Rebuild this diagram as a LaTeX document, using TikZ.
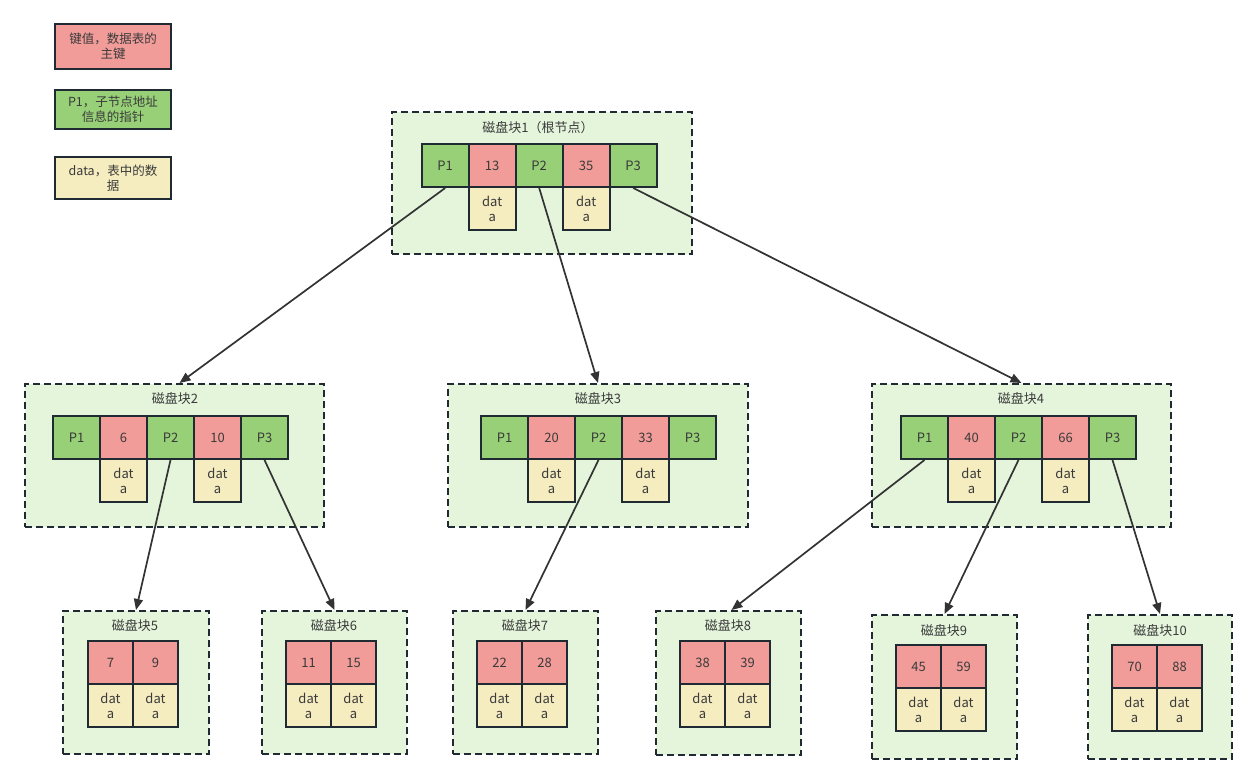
\documentclass[tikz,border=0pt]{standalone}
\usepackage{fontspec}
\setmainfont{Noto Sans CJK SC}
\usetikzlibrary{arrows.meta}
\definecolor{keyred}{HTML}{F19C99}
\definecolor{ptrgreen}{HTML}{97D077}
\definecolor{datayel}{HTML}{F5EDC0}
\definecolor{blkbg}{HTML}{E5F5DC}
\definecolor{edge}{HTML}{1F2A33}
\definecolor{txt}{HTML}{3A3A3A}
\definecolor{arr}{HTML}{333333}
\tikzset{
  cell/.style={draw=edge, line width=2pt, text=txt, font=\fontsize{13}{15}\selectfont, align=center, inner sep=0pt},
  pcell/.style={cell, fill=ptrgreen, minimum width=47, minimum height=43},
  kcell/.style={cell, fill=keyred, minimum width=47, minimum height=43},
  dcell/.style={cell, fill=datayel, minimum width=47, minimum height=43},
  lkcell/.style={cell, fill=keyred, minimum width=45, minimum height=43},
  ldcell/.style={cell, fill=datayel, minimum width=45, minimum height=43},
  blk/.style={draw=edge, fill=blkbg, line width=2pt, dash pattern=on 7pt off 4pt, inner sep=0pt},
  ttl/.style={text=txt, font=\fontsize{13}{15}\selectfont, inner sep=0pt},
  legend/.style={draw=edge, line width=2pt, text=txt, font=\fontsize{12.5}{15}\selectfont, align=center, minimum width=116, inner sep=0pt},
  link/.style={draw=arr, line width=1.7pt, -{Triangle[length=11pt,width=9pt]}}
}
\newcommand\brow[5]{%
  \node[pcell] (#1p1) at (#2+23.5,#3+21.5) {P1};
  \node[kcell] (#1k1) at (#2+70.5,#3+21.5) {#4};
  \node[pcell] (#1p2) at (#2+117.5,#3+21.5) {P2};
  \node[kcell] (#1k2) at (#2+164.5,#3+21.5) {#5};
  \node[pcell] (#1p3) at (#2+211.5,#3+21.5) {P3};
  \node[dcell] (#1d1) at (#2+70.5,#3+64.5) {dat\\a};
  \node[dcell] (#1d2) at (#2+164.5,#3+64.5) {dat\\a};
}
\newcommand\lrow[5]{%
  \node[lkcell] (#1k1) at (#2+22.5,#3+21.5) {#4};
  \node[lkcell] (#1k2) at (#2+67.5,#3+21.5) {#5};
  \node[ldcell] (#1d1) at (#2+22.5,#3+64.5) {dat\\a};
  \node[ldcell] (#1d2) at (#2+67.5,#3+64.5) {dat\\a};
}
\begin{document}
\begin{tikzpicture}[x=1pt,y=-1pt]
\useasboundingbox (0,0) rectangle (1258,784);
% legend
\node[legend, fill=keyred, minimum height=45] (lg1) at (113,46.5) {键值，数据表的\\主键};
\node[legend, fill=ptrgreen, minimum height=39] (lg2) at (113,109.5) {P1，子节点地址\\信息的指针};
\node[legend, fill=datayel, minimum height=42] (lg3) at (113,178) {data，表中的数\\据};
% blocks
\node[blk, minimum width=300, minimum height=142] (b1) at (542,183) {};
\node[blk, minimum width=299, minimum height=143] (b2) at (174.5,455.5) {};
\node[blk, minimum width=300, minimum height=143] (b3) at (598,455.5) {};
\node[blk, minimum width=299, minimum height=143] (b4) at (1021.5,455.5) {};
\node[blk, minimum width=146, minimum height=143] (b5) at (136,682.5) {};
\node[blk, minimum width=145, minimum height=143] (b6) at (334.5,682.5) {};
\node[blk, minimum width=145, minimum height=143] (b7) at (525.5,682.5) {};
\node[blk, minimum width=145, minimum height=144] (b8) at (728.5,683) {};
\node[blk, minimum width=145, minimum height=144] (b9) at (944.5,687) {};
\node[blk, minimum width=144, minimum height=144] (b10) at (1160,687) {};
% titles
\node[ttl] (t1) at (538,128) {磁盘块1（根节点）};
\node[ttl] (t2) at (175,399) {磁盘块2};
\node[ttl] (t3) at (598,399) {磁盘块3};
\node[ttl] (t4) at (1021,399) {磁盘块4};
\node[ttl] (t5) at (135,626) {磁盘块5};
\node[ttl] (t6) at (334,626) {磁盘块6};
\node[ttl] (t7) at (525,626) {磁盘块7};
\node[ttl] (t8) at (728,626) {磁盘块8};
\node[ttl] (t9) at (944,631) {磁盘块9};
\node[ttl] (t10) at (1160,631) {磁盘块10};
% rows
\brow{r}{421.7}{144}{13}{35}
\brow{s}{53}{416}{6}{10}
\brow{u}{481}{416}{20}{33}
\brow{v}{901}{416}{40}{66}
\lrow{e}{88}{641}{7}{9}
\lrow{f}{286}{641}{11}{15}
\lrow{g}{477}{641}{22}{28}
\lrow{h}{680}{641}{38}{39}
\lrow{i}{896}{645}{45}{59}
\lrow{j}{1112}{645}{70}{88}
% links
\draw[link] (rp1.south) -- ([xshift=5pt]b2.north);
\draw[link] (rp2.south) -- (b3.north);
\draw[link] (rp3.south) -- (b4.north);
\draw[link] (sp2.south) -- (b5.north);
\draw[link] (sp3.south) -- (b6.north);
\draw[link] (up2.south) -- (b7.north);
\draw[link] (vp1.south) -- ([xshift=3pt]b8.north);
\draw[link] (vp2.south) -- (b9.north);
\draw[link] (vp3.south) -- (b10.north);
\end{tikzpicture}
\end{document}
